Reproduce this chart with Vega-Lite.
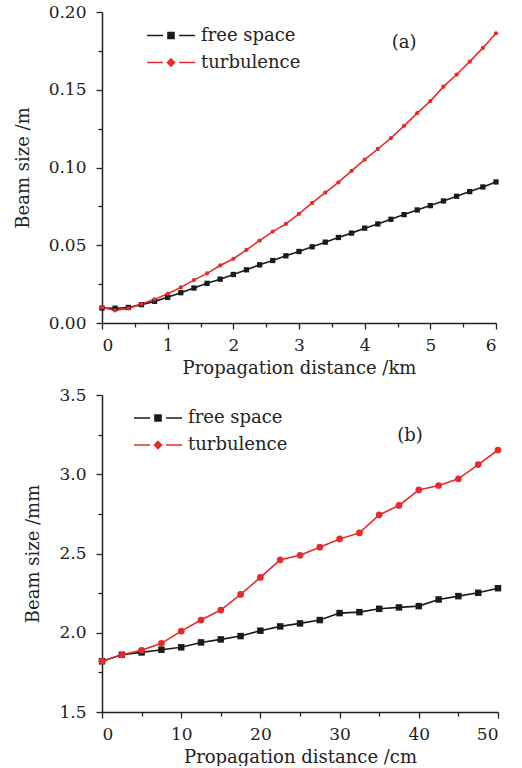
{
  "$schema": "https://vega.github.io/schema/vega-lite/v6.json",
  "padding": {"left": 14, "top": 3, "right": 20, "bottom": 0},
  "background": "white",
  "spacing": 9,
  "config": {
    "view": {"stroke": null},
    "axis": {"grid": false, "domainColor": "#222", "domainWidth": 1.5, "tickColor": "#222", "tickWidth": 1.3, "labelFont": "DejaVu Serif", "labelFontSize": 17, "labelColor": "#222", "titleFont": "DejaVu Serif", "titleFontSize": 18, "titleFontWeight": "normal", "titleColor": "#222"},
    "legend": {"labelFont": "DejaVu Serif"},
    "text": {"font": "DejaVu Serif"}
  },
  "datasets": {
    "a": [
      {"d": 0.0, "v": 0.0096, "s": "free space"}, {"d": 0.2, "v": 0.0095, "s": "free space"}, {"d": 0.4, "v": 0.0100, "s": "free space"}, {"d": 0.6, "v": 0.0118, "s": "free space"}, {"d": 0.8, "v": 0.0139, "s": "free space"}, {"d": 1.0, "v": 0.0165, "s": "free space"}, {"d": 1.2, "v": 0.0195, "s": "free space"}, {"d": 1.4, "v": 0.0225, "s": "free space"}, {"d": 1.6, "v": 0.0255, "s": "free space"}, {"d": 1.8, "v": 0.0282, "s": "free space"}, {"d": 2.0, "v": 0.0312, "s": "free space"}, {"d": 2.2, "v": 0.0342, "s": "free space"}, {"d": 2.4, "v": 0.0374, "s": "free space"}, {"d": 2.6, "v": 0.0402, "s": "free space"}, {"d": 2.8, "v": 0.0432, "s": "free space"}, {"d": 3.0, "v": 0.0460, "s": "free space"}, {"d": 3.2, "v": 0.0490, "s": "free space"}, {"d": 3.4, "v": 0.0520, "s": "free space"}, {"d": 3.6, "v": 0.0550, "s": "free space"}, {"d": 3.8, "v": 0.0578, "s": "free space"}, {"d": 4.0, "v": 0.0610, "s": "free space"}, {"d": 4.2, "v": 0.0637, "s": "free space"}, {"d": 4.4, "v": 0.0667, "s": "free space"}, {"d": 4.6, "v": 0.0697, "s": "free space"}, {"d": 4.8, "v": 0.0727, "s": "free space"}, {"d": 5.0, "v": 0.0755, "s": "free space"}, {"d": 5.2, "v": 0.0785, "s": "free space"}, {"d": 5.4, "v": 0.0815, "s": "free space"}, {"d": 5.6, "v": 0.0845, "s": "free space"}, {"d": 5.8, "v": 0.0875, "s": "free space"}, {"d": 6.0, "v": 0.0907, "s": "free space"},
      {"d": 0.0, "v": 0.0100, "s": "turbulence"}, {"d": 0.2, "v": 0.0081, "s": "turbulence"}, {"d": 0.4, "v": 0.0094, "s": "turbulence"}, {"d": 0.6, "v": 0.0122, "s": "turbulence"}, {"d": 0.8, "v": 0.0152, "s": "turbulence"}, {"d": 1.0, "v": 0.0188, "s": "turbulence"}, {"d": 1.2, "v": 0.0229, "s": "turbulence"}, {"d": 1.4, "v": 0.0276, "s": "turbulence"}, {"d": 1.6, "v": 0.0319, "s": "turbulence"}, {"d": 1.8, "v": 0.0370, "s": "turbulence"}, {"d": 2.0, "v": 0.0413, "s": "turbulence"}, {"d": 2.2, "v": 0.0470, "s": "turbulence"}, {"d": 2.4, "v": 0.0530, "s": "turbulence"}, {"d": 2.6, "v": 0.0588, "s": "turbulence"}, {"d": 2.8, "v": 0.0637, "s": "turbulence"}, {"d": 3.0, "v": 0.0702, "s": "turbulence"}, {"d": 3.2, "v": 0.0772, "s": "turbulence"}, {"d": 3.4, "v": 0.0839, "s": "turbulence"}, {"d": 3.6, "v": 0.0905, "s": "turbulence"}, {"d": 3.8, "v": 0.0978, "s": "turbulence"}, {"d": 4.0, "v": 0.1050, "s": "turbulence"}, {"d": 4.2, "v": 0.1119, "s": "turbulence"}, {"d": 4.4, "v": 0.1189, "s": "turbulence"}, {"d": 4.6, "v": 0.1268, "s": "turbulence"}, {"d": 4.8, "v": 0.1350, "s": "turbulence"}, {"d": 5.0, "v": 0.1427, "s": "turbulence"}, {"d": 5.2, "v": 0.1520, "s": "turbulence"}, {"d": 5.4, "v": 0.1598, "s": "turbulence"}, {"d": 5.6, "v": 0.1681, "s": "turbulence"}, {"d": 5.8, "v": 0.1769, "s": "turbulence"}, {"d": 6.0, "v": 0.1863, "s": "turbulence"}
    ],
    "b": [
      {"d": 0, "v": 1.820, "s": "free space"}, {"d": 2.5, "v": 1.861, "s": "free space"}, {"d": 5, "v": 1.876, "s": "free space"}, {"d": 7.5, "v": 1.893, "s": "free space"}, {"d": 10, "v": 1.908, "s": "free space"}, {"d": 12.5, "v": 1.939, "s": "free space"}, {"d": 15, "v": 1.958, "s": "free space"}, {"d": 17.5, "v": 1.979, "s": "free space"}, {"d": 20, "v": 2.013, "s": "free space"}, {"d": 22.5, "v": 2.040, "s": "free space"}, {"d": 25, "v": 2.059, "s": "free space"}, {"d": 27.5, "v": 2.080, "s": "free space"}, {"d": 30, "v": 2.124, "s": "free space"}, {"d": 32.5, "v": 2.130, "s": "free space"}, {"d": 35, "v": 2.151, "s": "free space"}, {"d": 37.5, "v": 2.160, "s": "free space"}, {"d": 40, "v": 2.168, "s": "free space"}, {"d": 42.5, "v": 2.210, "s": "free space"}, {"d": 45, "v": 2.231, "s": "free space"}, {"d": 47.5, "v": 2.252, "s": "free space"}, {"d": 50, "v": 2.281, "s": "free space"},
      {"d": 0, "v": 1.820, "s": "turbulence"}, {"d": 2.5, "v": 1.861, "s": "turbulence"}, {"d": 5, "v": 1.889, "s": "turbulence"}, {"d": 7.5, "v": 1.933, "s": "turbulence"}, {"d": 10, "v": 2.010, "s": "turbulence"}, {"d": 12.5, "v": 2.080, "s": "turbulence"}, {"d": 15, "v": 2.143, "s": "turbulence"}, {"d": 17.5, "v": 2.242, "s": "turbulence"}, {"d": 20, "v": 2.349, "s": "turbulence"}, {"d": 22.5, "v": 2.460, "s": "turbulence"}, {"d": 25, "v": 2.489, "s": "turbulence"}, {"d": 27.5, "v": 2.540, "s": "turbulence"}, {"d": 30, "v": 2.592, "s": "turbulence"}, {"d": 32.5, "v": 2.630, "s": "turbulence"}, {"d": 35, "v": 2.744, "s": "turbulence"}, {"d": 37.5, "v": 2.803, "s": "turbulence"}, {"d": 40, "v": 2.901, "s": "turbulence"}, {"d": 42.5, "v": 2.929, "s": "turbulence"}, {"d": 45, "v": 2.971, "s": "turbulence"}, {"d": 47.5, "v": 3.061, "s": "turbulence"}, {"d": 50, "v": 3.153, "s": "turbulence"}
    ]
  },
  "resolve": {"scale": {"color": "independent"}, "legend": {"color": "independent"}},
  "vconcat": [
    {
      "width": 394,
      "height": 311,
      "data": {"name": "a"},
      "resolve": {"axis": {"x": "independent", "y": "independent"}},
      "layer": [
        {
          "mark": {"type": "line", "strokeWidth": 1.6},
          "encoding": {
            "x": {"field": "d", "type": "quantitative", "scale": {"domain": [0, 6], "nice": false, "zero": false}, "axis": {"orient": "bottom", "values": [0, 1, 2, 3, 4, 5, 6], "format": "d", "tickSize": 6, "labelPadding": 8, "title": "Propagation distance /km", "titlePadding": 6}},
            "y": {"field": "v", "type": "quantitative", "scale": {"domain": [0, 0.2], "nice": false}, "axis": {"orient": "left", "values": [0, 0.05, 0.1, 0.15, 0.2], "format": ".2f", "tickSize": 6, "labelPadding": 10, "title": "Beam size /m", "titlePadding": 16}},
            "color": {"field": "s", "type": "nominal", "scale": {"domain": ["free space", "turbulence"], "range": ["#1a1a1a", "#e52b2b"]},
              "legend": {"title": null, "orient": "none", "legendX": 60, "legendY": 14.5, "padding": 0, "symbolSize": 100, "symbolStrokeWidth": 1.6, "symbolType": "M-4.8,0H-1.6M1.6,0H4.8M-0.6,-0.6H0.6V0.6H-0.6Z", "labelFont": "DejaVu Serif", "labelFontSize": 18, "labelColor": "#222", "labelOffset": 21, "rowPadding": 9,
                "encode": {"symbols": {"update": {
                  "shape": {"signal": "datum.value === 'free space' ? 'M-4.8,0H-1.6M1.6,0H4.8M-0.6,-0.6H0.6V0.6H-0.6Z' : 'M-4.8,0H-1.6M1.6,0H4.8M0,-0.7L0.7,0L0,0.7L-0.7,0Z'"},
                  "fill": {"signal": "datum.value === 'free space' ? '#1a1a1a' : '#e52b2b'"},
                  "stroke": {"signal": "datum.value === 'free space' ? '#1a1a1a' : '#e52b2b'"}
                }}}}
            }
          }
        },
        {
          "transform": [{"filter": "datum.s === 'free space'"}],
          "mark": {"type": "point", "filled": true, "opacity": 1, "shape": "square", "size": 28, "color": "#1a1a1a"},
          "encoding": {
            "x": {"field": "d", "type": "quantitative", "axis": null},
            "y": {"field": "v", "type": "quantitative", "axis": null}
          }
        },
        {
          "transform": [{"filter": "datum.s === 'turbulence'"}],
          "mark": {"type": "point", "filled": true, "opacity": 1, "shape": "circle", "size": 18, "color": "#e52b2b"},
          "encoding": {
            "x": {"field": "d", "type": "quantitative", "axis": null},
            "y": {"field": "v", "type": "quantitative", "axis": null}
          }
        },
        {
          "mark": {"type": "point", "opacity": 0},
          "encoding": {
            "x": {"field": "d", "type": "quantitative", "axis": {"orient": "bottom", "values": [0.5, 1.5, 2.5, 3.5, 4.5, 5.5], "labels": false, "domain": false, "tickSize": 4, "title": null}},
            "y": {"field": "v", "type": "quantitative", "axis": {"orient": "left", "values": [0.025, 0.075, 0.125, 0.175], "labels": false, "domain": false, "tickSize": 4, "title": null}}
          }
        },
        {
          "data": {"values": [{"label": "(a)", "x": 4.6, "y": 0.18}]},
          "mark": {"type": "text", "fontSize": 18, "color": "#222"},
          "encoding": {
            "x": {"field": "x", "type": "quantitative", "axis": null},
            "y": {"field": "y", "type": "quantitative", "axis": null},
            "text": {"field": "label"}
          }
        }
      ]
    },
    {
      "width": 396,
      "height": 317,
      "data": {"name": "b"},
      "resolve": {"axis": {"x": "independent", "y": "independent"}},
      "layer": [
        {
          "mark": {"type": "line", "strokeWidth": 1.6},
          "encoding": {
            "x": {"field": "d", "type": "quantitative", "scale": {"domain": [0, 50], "nice": false, "zero": false}, "axis": {"orient": "bottom", "values": [0, 10, 20, 30, 40, 50], "format": "d", "tickSize": 6, "labelPadding": 8, "title": "Propagation distance /cm", "titlePadding": 6}},
            "y": {"field": "v", "type": "quantitative", "scale": {"domain": [1.5, 3.5], "nice": false, "zero": false}, "axis": {"orient": "left", "values": [1.5, 2, 2.5, 3, 3.5], "format": ".1f", "tickSize": 6, "labelPadding": 10, "title": "Beam size /mm", "titlePadding": 16}},
            "color": {"field": "s", "type": "nominal", "scale": {"domain": ["free space", "turbulence"], "range": ["#1a1a1a", "#e52b2b"]},
              "legend": {"title": null, "orient": "none", "legendX": 47, "legendY": 14, "padding": 0, "symbolSize": 100, "symbolStrokeWidth": 1.6, "symbolType": "M-4.8,0H-1.6M1.6,0H4.8M-0.6,-0.6H0.6V0.6H-0.6Z", "labelFont": "DejaVu Serif", "labelFontSize": 18, "labelColor": "#222", "labelOffset": 21, "rowPadding": 9,
                "encode": {"symbols": {"update": {
                  "shape": {"signal": "datum.value === 'free space' ? 'M-4.8,0H-1.6M1.6,0H4.8M-0.6,-0.6H0.6V0.6H-0.6Z' : 'M-4.8,0H-1.6M1.6,0H4.8M0,-0.7L0.7,0L0,0.7L-0.7,0Z'"},
                  "fill": {"signal": "datum.value === 'free space' ? '#1a1a1a' : '#e52b2b'"},
                  "stroke": {"signal": "datum.value === 'free space' ? '#1a1a1a' : '#e52b2b'"}
                }}}}
            }
          }
        },
        {
          "transform": [{"filter": "datum.s === 'free space'"}],
          "mark": {"type": "point", "filled": true, "opacity": 1, "shape": "square", "size": 42, "color": "#1a1a1a"},
          "encoding": {
            "x": {"field": "d", "type": "quantitative", "axis": null},
            "y": {"field": "v", "type": "quantitative", "axis": null}
          }
        },
        {
          "transform": [{"filter": "datum.s === 'turbulence'"}],
          "mark": {"type": "point", "filled": true, "opacity": 1, "shape": "circle", "size": 45, "color": "#e52b2b"},
          "encoding": {
            "x": {"field": "d", "type": "quantitative", "axis": null},
            "y": {"field": "v", "type": "quantitative", "axis": null}
          }
        },
        {
          "mark": {"type": "point", "opacity": 0},
          "encoding": {
            "x": {"field": "d", "type": "quantitative", "axis": {"orient": "bottom", "values": [5, 15, 25, 35, 45], "labels": false, "domain": false, "tickSize": 4, "title": null}},
            "y": {"field": "v", "type": "quantitative", "axis": {"orient": "left", "values": [1.75, 2.25, 2.75, 3.25], "labels": false, "domain": false, "tickSize": 4, "title": null}}
          }
        },
        {
          "data": {"values": [{"label": "(b)", "x": 38.9, "y": 3.24}]},
          "mark": {"type": "text", "fontSize": 18, "color": "#222"},
          "encoding": {
            "x": {"field": "x", "type": "quantitative", "axis": null},
            "y": {"field": "y", "type": "quantitative", "axis": null},
            "text": {"field": "label"}
          }
        }
      ]
    }
  ]
}
